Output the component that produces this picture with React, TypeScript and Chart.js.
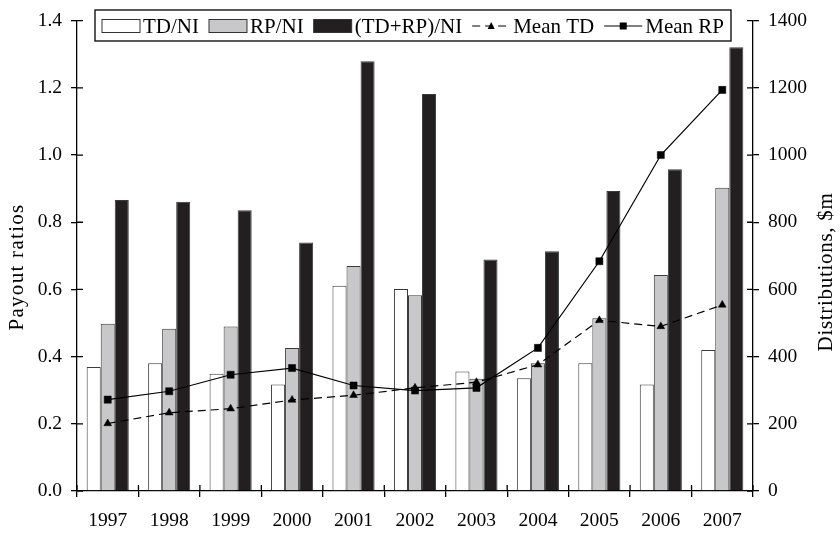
import React, { useEffect, useRef } from "react";
import { Chart, registerables } from "chart.js";

Chart.register(...registerables);

const years = ["1997", "1998", "1999", "2000", "2001", "2002", "2003", "2004", "2005", "2006", "2007"];
const tdNi = [0.369, 0.38, 0.349, 0.317, 0.611, 0.601, 0.356, 0.336, 0.38, 0.317, 0.42];
const rpNi = [0.498, 0.483, 0.49, 0.426, 0.67, 0.583, 0.334, 0.38, 0.514, 0.643, 0.903];
const totalNi = [0.866, 0.861, 0.836, 0.74, 1.279, 1.182, 0.689, 0.714, 0.893, 0.958, 1.321];
const meanTd = [201, 233, 245, 271, 285, 307, 324, 376, 508, 490, 554];
const meanRp = [272, 297, 346, 366, 314, 299, 307, 426, 684, 1000, 1194];

const leftTitle = "Payout ratios";
const rightTitle = "Distributions, $m";

const FONT = "'Liberation Serif', 'Times New Roman', serif";

const inwardTicks = {
  id: "inwardTicks",
  afterDraw(chart: any) {
    const ctx = chart.ctx;
    const { x, y, y1 } = chart.scales;
    ctx.save();
    ctx.strokeStyle = "#000";
    ctx.lineWidth = 1.3;
    const len = 6;
    const n = x.ticks.length;
    ctx.beginPath();
    for (let i = 0; i <= n; i++) {
      const px = x.left + (i * x.width) / n;
      ctx.moveTo(px, x.top);
      ctx.lineTo(px, x.top - len);
    }
    y.ticks.forEach((t: any) => {
      const py = y.getPixelForValue(t.value);
      ctx.moveTo(y.right, py);
      ctx.lineTo(y.right + len, py);
    });
    y1.ticks.forEach((t: any) => {
      const py = y1.getPixelForValue(t.value);
      ctx.moveTo(y1.left, py);
      ctx.lineTo(y1.left - len, py);
    });
    ctx.stroke();
    ctx.restore();
  },
};

function drawVerticalTitle(ctx: any, text: string, x: number, y: number, size: number, spacing: number) {
  ctx.save();
  ctx.fillStyle = "#000";
  ctx.font = `${size}px ${FONT}`;
  try { ctx.letterSpacing = `${spacing}px`; } catch (e) {}
  ctx.textAlign = "center";
  ctx.textBaseline = "middle";
  ctx.translate(x, y);
  ctx.rotate(-Math.PI / 2);
  ctx.fillText(text, 0, 0);
  ctx.restore();
}

const titlesPlugin = {
  id: "titlesPlugin",
  afterDraw(chart: any) {
    const ctx = chart.ctx;
    drawVerticalTitle(ctx, leftTitle, 17, 267, 21, 1.3);
    drawVerticalTitle(ctx, rightTitle, 826, 272, 21, 0.7);
  },
};

const legendPlugin = {
  id: "boxLegend",
  afterDraw(chart: any) {
    const ctx = chart.ctx;
    const ds = chart.data.datasets;
    const order = [0, 1, 2, 3, 4];
    ctx.save();
    ctx.font = `21px ${FONT}`;
    ctx.textBaseline = "middle";
    ctx.textAlign = "left";
    const boxX = 95, boxY = 10, boxW = 636, boxH = 31;
    ctx.fillStyle = "#fff";
    ctx.fillRect(boxX, boxY, boxW, boxH);
    ctx.strokeStyle = "#000";
    ctx.lineWidth = 1.3;
    ctx.strokeRect(boxX, boxY, boxW, boxH);
    let cx = 102;
    const cy = 26;
    const sw = 38;
    order.forEach((i) => {
      const d = ds[i];
      if (d.type === "line") {
        ctx.save();
        ctx.strokeStyle = "#000";
        ctx.lineWidth = 1.2;
        ctx.setLineDash(d.borderDash || []);
        ctx.beginPath();
        ctx.moveTo(cx, cy);
        ctx.lineTo(cx + sw, cy);
        ctx.stroke();
        ctx.setLineDash([]);
        ctx.fillStyle = "#000";
        if (d.pointStyle === "rect") {
          ctx.fillRect(cx + sw / 2 - 3.5, cy - 3.5, 7, 7);
        } else {
          ctx.beginPath();
          ctx.moveTo(cx + sw / 2, cy - 4);
          ctx.lineTo(cx + sw / 2 + 3.5, cy + 3);
          ctx.lineTo(cx + sw / 2 - 3.5, cy + 3);
          ctx.closePath();
          ctx.fill();
        }
        ctx.restore();
      } else {
        ctx.fillStyle = d.backgroundColor;
        ctx.fillRect(cx, cy - 6.5, sw, 13);
        ctx.strokeStyle = "#333";
        ctx.lineWidth = 1;
        ctx.strokeRect(cx, cy - 6.5, sw, 13);
      }
      ctx.fillStyle = "#000";
      ctx.fillText(d.label, cx + sw + 3, cy + 1);
      cx += sw + 3 + ctx.measureText(d.label).width + 10;
    });
    ctx.restore();
  },
};

export default function App() {
  const ref = useRef<HTMLCanvasElement | null>(null);
  useEffect(() => {
    document.body.style.margin = "0";
    const canvas = ref.current;
    if (!canvas) return;
    const tickFont = { family: FONT, size: 19.5 };
    const chart = new Chart(canvas, {
      type: "bar",
      data: {
        labels: years,
        datasets: [
          { type: "bar", label: "TD/NI", data: tdNi, backgroundColor: "#ffffff", borderColor: "#3a3a3a", borderWidth: 1, yAxisID: "y", order: 2, categoryPercentage: 0.685, barPercentage: 1 },
          { type: "bar", label: "RP/NI", data: rpNi, backgroundColor: "#c8c8ca", borderColor: "#3a3a3a", borderWidth: 1, yAxisID: "y", order: 2, categoryPercentage: 0.685, barPercentage: 1 },
          { type: "bar", label: "(TD+RP)/NI", data: totalNi, backgroundColor: "#231f20", borderColor: "#3a3a3a", borderWidth: 1, yAxisID: "y", order: 2, categoryPercentage: 0.685, barPercentage: 1 },
          { type: "line", label: "Mean TD", data: meanTd, borderColor: "#000", borderWidth: 1.2, borderDash: [8, 5], pointStyle: "triangle", pointRadius: 4.5, pointBackgroundColor: "#000", pointBorderColor: "#000", pointBorderWidth: 0.5, yAxisID: "y1", order: 1, fill: false, tension: 0 },
          { type: "line", label: "Mean RP", data: meanRp, borderColor: "#000", borderWidth: 1.2, pointStyle: "rect", pointRadius: 5, pointBackgroundColor: "#000", pointBorderColor: "#000", pointBorderWidth: 0.5, yAxisID: "y1", order: 1, fill: false, tension: 0 },
        ] as any,
      },
      options: {
        animation: false,
        responsive: false,
        maintainAspectRatio: false,
        layout: { padding: { top: 15, left: 0, right: 0, bottom: 0 } },
        plugins: { legend: { display: false }, tooltip: { enabled: false } },
        scales: {
          x: {
            grid: { offset: true, drawOnChartArea: false, tickLength: 6, color: "#000", lineWidth: 1.3 },
            border: { color: "#000", width: 1.3 },
            ticks: { font: tickFont, color: "#000", padding: 12, maxRotation: 0 },
            afterFit: (s: any) => { s.height = 43; },
          },
          y: {
            position: "left",
            min: 0,
            max: 1.4,
            grid: { drawOnChartArea: false, tickLength: 6, color: "#000", lineWidth: 1.3 },
            border: { color: "#000", width: 1.3 },
            ticks: { stepSize: 0.2, font: tickFont, color: "#000", padding: 9, callback: (v: any) => Number(v).toFixed(1) },
            afterFit: (s: any) => { s.width = 77; },
          },
          y1: {
            position: "right",
            min: 0,
            max: 1400,
            grid: { drawOnChartArea: false, tickLength: 6, color: "#000", lineWidth: 1.3 },
            border: { color: "#000", width: 1.3 },
            ticks: { stepSize: 200, font: tickFont, color: "#000", padding: 9, callback: (v: any) => String(v) },
            afterFit: (s: any) => { s.width = 87; },
          },
        },
      } as any,
      plugins: [inwardTicks, titlesPlugin, legendPlugin],
    });
    return () => chart.destroy();
  }, []);
  return (
    <div style={{ width: 840, height: 534, background: "#fff" }}>
      <canvas ref={ref} width={840} height={534} style={{ display: "block" }} />
    </div>
  );
}
